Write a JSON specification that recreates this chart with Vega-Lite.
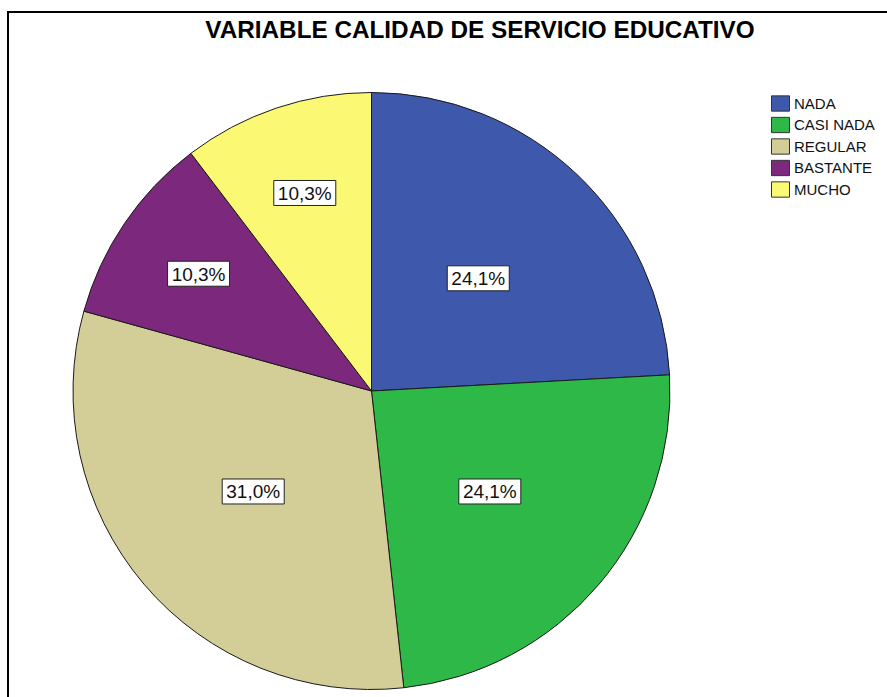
{
  "$schema": "https://vega.github.io/schema/vega-lite/v6.json",
  "width": 944,
  "height": 700,
  "padding": {"left": 8, "top": 12, "right": 0, "bottom": 0},
  "background": "white",
  "config": {
    "view": {"stroke": "black", "strokeWidth": 2},
    "font": "Liberation Sans"
  },
  "title": {
    "text": "VARIABLE CALIDAD DE SERVICIO EDUCATIVO",
    "orient": "top",
    "anchor": "middle",
    "offset": -50,
    "baseline": "alphabetic",
    "font": "Liberation Sans",
    "fontSize": 24.3,
    "fontWeight": "bold",
    "color": "black"
  },
  "data": {
    "values": [
      {"categoria": "NADA", "orden": 1, "n": 7, "etiqueta": "24,1%"},
      {"categoria": "CASI NADA", "orden": 2, "n": 7, "etiqueta": "24,1%"},
      {"categoria": "REGULAR", "orden": 3, "n": 9, "etiqueta": "31,0%"},
      {"categoria": "BASTANTE", "orden": 4, "n": 3, "etiqueta": "10,3%"},
      {"categoria": "MUCHO", "orden": 5, "n": 3, "etiqueta": "10,3%"}
    ]
  },
  "layer": [
    {
      "mark": {"type": "arc", "outerRadius": 298.5, "stroke": "#1a1a1a", "strokeWidth": 1},
      "encoding": {
        "x": {"datum": 0, "type": "quantitative", "scale": {"domain": [-1.2178, 1.9447], "nice": false, "zero": false}, "axis": null},
        "y": {"datum": 0, "type": "quantitative", "scale": {"domain": [-1.0754, 1.2697], "nice": false, "zero": false}, "axis": null},
        "theta": {"field": "n", "type": "quantitative", "stack": true},
        "order": {"field": "orden", "type": "quantitative"},
        "color": {
          "field": "categoria",
          "type": "nominal",
          "sort": ["NADA", "CASI NADA", "REGULAR", "BASTANTE", "MUCHO"],
          "scale": {
            "domain": ["NADA", "CASI NADA", "REGULAR", "BASTANTE", "MUCHO"],
            "range": ["#3E58AC", "#2EB848", "#D3CE97", "#7C287D", "#FBF873"]
          },
          "legend": {
            "title": null,
            "orient": "none",
            "legendX": 763,
            "legendY": 82,
            "padding": 0,
            "symbolType": "M-1,-0.85H1V0.85H-1Z",
            "symbolSize": 324,
            "symbolStrokeColor": "#333333",
            "symbolStrokeWidth": 1,
            "symbolOpacity": 1,
            "labelFont": "Liberation Sans",
            "labelFontSize": 15,
            "labelColor": "#111111",
            "labelOffset": 4,
            "rowPadding": 0.5
          }
        }
      }
    },
    {
      "transform": [
        {"joinaggregate": [{"op": "sum", "field": "n", "as": "total"}]},
        {"window": [{"op": "sum", "field": "n", "as": "acum"}], "sort": [{"field": "orden"}], "frame": [null, 0]},
        {"calculate": "2*PI*(datum.acum - datum.n/2)/datum.total", "as": "ang"},
        {"calculate": "datum.n < 5 ? 0.7 : 0.52", "as": "rad"},
        {"calculate": "datum.rad*sin(datum.ang)", "as": "lx"},
        {"calculate": "datum.rad*cos(datum.ang)", "as": "ly"}
      ],
      "layer": [
        {
          "mark": {"type": "point", "shape": "M-1,-0.403H1V0.403H-1Z", "size": 3844, "filled": true, "fill": "white", "stroke": "#222222", "strokeWidth": 1, "opacity": 1},
          "encoding": {
            "x": {"field": "lx", "type": "quantitative"},
            "y": {"field": "ly", "type": "quantitative"}
          }
        },
        {
          "mark": {"type": "text", "font": "Liberation Sans", "fontSize": 19, "color": "#111111", "align": "center", "baseline": "middle", "dy": 1},
          "encoding": {
            "x": {"field": "lx", "type": "quantitative"},
            "y": {"field": "ly", "type": "quantitative"},
            "text": {"field": "etiqueta", "type": "nominal"}
          }
        }
      ]
    }
  ]
}
